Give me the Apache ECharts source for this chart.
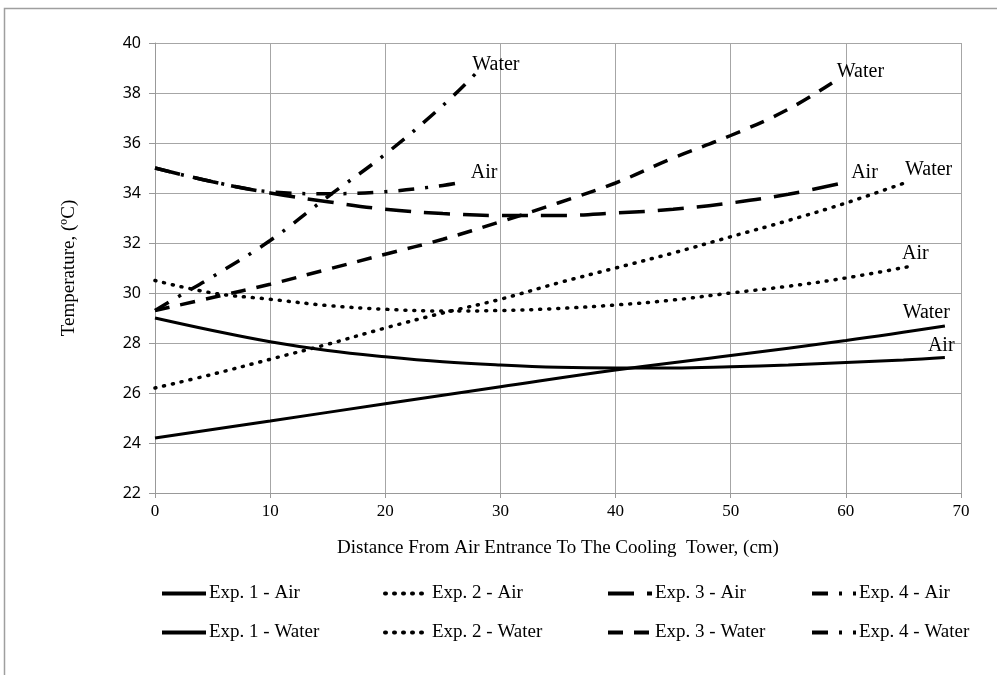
<!DOCTYPE html>
<html>
<head>
<meta charset="utf-8">
<script src="https://cdn.jsdelivr.net/npm/echarts@6/dist/echarts.min.js"></script>
<style>
  html, body { margin: 0; padding: 0; background: #fff; }
  #chart { width: 997px; height: 675px; }
</style>
</head>
<body>
<div id="chart"></div>
<script>
// Temperature profiles along the cooling tower (distance in cm, temperature in ºC)
const exp1AirX = [0, 5, 10, 15, 20, 25, 30, 35, 40, 45, 50, 55, 60, 65, 68.6];
const exp1AirY = [29.0, 28.5, 28.05, 27.7, 27.45, 27.25, 27.12, 27.03, 27.0, 27.0, 27.05, 27.12, 27.22, 27.32, 27.42];
const exp1WaterX = [0, 10, 20, 30, 40, 50, 60, 68.6];
const exp1WaterY = [24.2, 24.88, 25.57, 26.25, 26.92, 27.5, 28.1, 28.68];

const exp2AirX = [0, 5, 10, 15, 20, 25, 30, 35, 40, 45, 50, 55, 60, 65.4];
const exp2AirY = [30.5, 30.0, 29.75, 29.5, 29.35, 29.28, 29.3, 29.38, 29.52, 29.72, 30.0, 30.27, 30.6, 31.05];
const exp2WaterX = [0, 5, 10, 15, 20, 25, 30, 35, 40, 45, 50, 55, 60, 65.4];
const exp2WaterY = [26.2, 26.75, 27.35, 27.95, 28.6, 29.2, 29.75, 30.4, 31.0, 31.6, 32.25, 32.9, 33.6, 34.45];

const exp3AirX = [0, 5, 10, 15, 20, 25, 30, 35, 40, 45, 50, 55, 60.2];
const exp3AirY = [35.0, 34.45, 34.0, 33.65, 33.35, 33.18, 33.1, 33.1, 33.2, 33.35, 33.6, 33.95, 34.45];
const exp3WaterX = [0, 5, 10, 15, 20, 25, 30, 35, 40, 45, 50, 55, 59.3];
const exp3WaterY = [29.3, 29.82, 30.35, 30.95, 31.55, 32.15, 32.85, 33.6, 34.4, 35.4, 36.3, 37.35, 38.55];

const exp4AirX = [0, 5, 10, 15, 20, 25, 26.9];
const exp4AirY = [35.0, 34.45, 34.05, 33.97, 34.05, 34.3, 34.45];
const exp4WaterX = [0, 2, 5, 10, 15, 20, 25, 27.9];
const exp4WaterY = [29.3, 29.85, 30.65, 32.1, 33.85, 35.55, 37.5, 38.8];

const seriesNames = [
  'Exp. 1 - Air', 'Exp. 2 - Air', 'Exp. 3 - Air', 'Exp. 4 - Air',
  'Exp. 1 - Water', 'Exp. 2 - Water', 'Exp. 3 - Water', 'Exp. 4 - Water'
];
const endTexts = ['Air', 'Air', 'Air', 'Air', 'Water', 'Water', 'Water', 'Water'];
const yTicks = [22, 24, 26, 28, 30, 32, 34, 36, 38, 40];
const xTicks = [0, 10, 20, 30, 40, 50, 60, 70];

const xs = [exp1AirX, exp2AirX, exp3AirX, exp4AirX, exp1WaterX, exp2WaterX, exp3WaterX, exp4WaterX];
const ys = [exp1AirY, exp2AirY, exp3AirY, exp4AirY, exp1WaterY, exp2WaterY, exp3WaterY, exp4WaterY];

const SERIF = '"Liberation Serif", "Times New Roman", serif';

// line patterns: solid, dotted, long dash, dash-dot
const styles = [
  { type: 'solid', width: 3 },
  { type: [1, 8], width: 3.5, cap: 'round' },
  { type: [26, 13], width: 3.5 },
  { type: [16, 11, 3, 11], width: 3.5 },
  { type: 'solid', width: 3 },
  { type: [1, 8], width: 3.5, cap: 'round' },
  { type: [15, 11], width: 3.5 },
  { type: [16, 11, 3, 11], width: 3.5 }
];

// end-of-line tag placement (align, offset from last point)
const tagPlace = [
  { align: 'left', offset: [-17, -12] },
  { align: 'left', offset: [-6, -13] },
  { align: 'left', offset: [3, -9] },
  { align: 'left', offset: [6, -9] },
  { align: 'right', offset: [5, -13] },
  { align: 'left', offset: [-3, -12] },
  { align: 'left', offset: [-1, -8] },
  { align: 'left', offset: [-4, -8] }
];

const legendPos = [
  { left: 160, top: 584 }, { left: 383, top: 584 }, { left: 606, top: 584 }, { left: 810, top: 584 },
  { left: 160, top: 623 }, { left: 383, top: 623 }, { left: 606, top: 623 }, { left: 810, top: 623 }
];

const series = seriesNames.map((name, i) => ({
  name: name,
  type: 'line',
  smooth: 0.4,
  symbol: 'none',
  showSymbol: false,
  data: xs[i].map((x, k) => [x, ys[i][k]]),
  lineStyle: Object.assign({ color: '#000' }, styles[i]),
  itemStyle: { color: '#000' },
  endLabel: {
    show: true,
    formatter: endTexts[i],
    distance: 0,
    align: tagPlace[i].align,
    verticalAlign: 'middle',
    offset: tagPlace[i].offset,
    fontFamily: SERIF,
    fontSize: 20,
    color: '#000'
  },
  emphasis: { disabled: true }
}));

// one legend block per series so each entry sits in its own column/row
const legends = seriesNames.map((name, i) => ({
  data: [name],
  left: legendPos[i].left,
  top: legendPos[i].top,
  padding: 0,
  itemWidth: 44,
  itemHeight: 16,
  itemGap: 0,
  selectedMode: false,
  itemStyle: { opacity: 0 },
  lineStyle: { width: 4 },
  textStyle: { fontFamily: SERIF, fontSize: 19, color: '#000', padding: [0, 0, 0, -2] }
}));

const chart = echarts.init(document.getElementById('chart'), null, { renderer: 'canvas' });
chart.setOption({
  animation: false,
  backgroundColor: '#fff',
  graphic: [{
    type: 'rect',
    shape: { x: 4.5, y: 8.5, width: 1200, height: 900 },
    style: { fill: 'none', stroke: '#9f9f9f', lineWidth: 1.5 },
    silent: true
  }],
  legend: legends,
  grid: { left: 155, right: 36, top: 43, bottom: 182, containLabel: false },
  xAxis: {
    type: 'value',
    min: xTicks[0],
    max: xTicks[xTicks.length - 1],
    interval: 10,
    name: 'Distance From Air Entrance To The Cooling  Tower, (cm)',
    nameLocation: 'middle',
    nameGap: 46,
    nameTextStyle: { fontFamily: SERIF, fontSize: 19, color: '#000' },
    axisLine: { show: true, lineStyle: { color: '#999', width: 1 } },
    axisTick: { show: true, length: 5, lineStyle: { color: '#999' } },
    axisLabel: { fontFamily: SERIF, fontSize: 17, color: '#000', margin: 10 },
    splitLine: { show: true, lineStyle: { color: '#a6a6a6', width: 1 } }
  },
  yAxis: {
    type: 'value',
    min: yTicks[0],
    max: yTicks[yTicks.length - 1],
    interval: 2,
    name: 'Temperature, (ºC)',
    nameLocation: 'middle',
    nameRotate: 90,
    nameGap: 76,
    nameTextStyle: { fontFamily: SERIF, fontSize: 19, color: '#000' },
    axisLine: { show: true, lineStyle: { color: '#999', width: 1 } },
    axisTick: { show: true, length: 6, lineStyle: { color: '#999' } },
    axisLabel: { fontFamily: '"Noto Sans", sans-serif', fontSize: 16, color: '#000', margin: 14 },
    splitLine: { show: true, lineStyle: { color: '#a6a6a6', width: 1 } }
  },
  series: series
});
</script>
</body>
</html>
